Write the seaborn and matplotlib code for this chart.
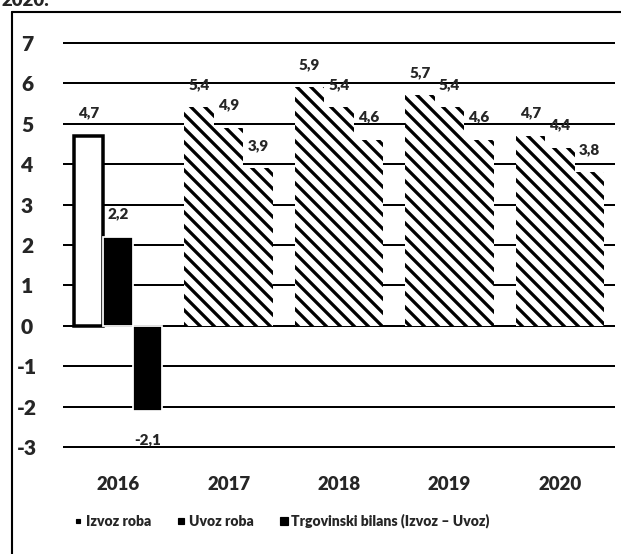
import pandas as pd
import matplotlib
matplotlib.use("Agg")
import matplotlib.pyplot as plt
import seaborn as sns
from matplotlib.lines import Line2D

# values
years = ["2016", "2017", "2018", "2019", "2020"]
series = ["Izvoz roba", "Uvoz roba", "Trgovinski bilans (Izvoz – Uvoz)"]
izvoz = [4.7, 5.4, 5.9, 5.7, 4.7]
uvoz = [2.2, 4.9, 5.4, 5.4, 4.4]
bilans = [-2.1, 3.9, 4.6, 4.6, 3.8]
yticks = [-3, -2, -1, 0, 1, 2, 3, 4, 5, 6, 7]

df = pd.DataFrame({
    "year": years * 3,
    "series": [series[0]] * 5 + [series[1]] * 5 + [series[2]] * 5,
    "value": izvoz + uvoz + bilans,
})

sns.set_style("white")
plt.rcParams["font.family"] = ["Lato", "DejaVu Sans"]
plt.rcParams["font.weight"] = "bold"
plt.rcParams["hatch.linewidth"] = 2.8
plt.rcParams["hatch.color"] = "black"

DPI = 84
fig = plt.figure(figsize=(621 / DPI, 554 / DPI), dpi=DPI)
ax = fig.add_axes([63 / 621, 0.18863, 552 / 621, 0.73827])

sns.barplot(data=df, x="year", y="value", hue="series", order=years,
            hue_order=series, palette=["white", "black", "black"],
            width=0.8, saturation=1, legend=False, ax=ax, zorder=3)

for j, cont in enumerate(ax.containers):
    for i, bar in enumerate(cont):
        if i == 0:
            if j == 0:
                bar.set_facecolor("white")
                bar.set_edgecolor("black")
                bar.set_linewidth(3.0)
            else:
                bar.set_facecolor("black")
                bar.set_edgecolor("white")
                bar.set_linewidth(1.5)
        else:
            bar.set_facecolor("white")
            bar.set_edgecolor("black")
            bar.set_linewidth(0)
            bar.set_hatch("\\\\")
        v = df[(df["series"] == series[j]) & (df["year"] == years[i])]["value"].iloc[0]
        off = 19.5 if v >= 0 else -25
        ax.annotate(f"{v:.1f}".replace(".", ","),
                    (bar.get_x() + bar.get_width() / 2, v),
                    xytext=(0, off), textcoords="offset points",
                    ha="center", va="center", fontsize=13, fontweight="heavy",
                    zorder=5)

ax.set_ylim(-3.05, 7.05)
ax.set_xlim(-0.5, 4.5)
ax.set_yticks(yticks)
ax.set_yticklabels([str(t) for t in yticks])
ax.yaxis.grid(True, color="black", linewidth=1.7)
ax.set_axisbelow(True)
ax.tick_params(axis="y", length=0, pad=30.9, labelsize=18)
ax.tick_params(axis="x", length=0, pad=22.5, labelsize=16)
for lab in ax.get_yticklabels():
    lab.set_ha("center")
    lab.set_fontweight("heavy")
for lab in ax.get_xticklabels():
    lab.set_fontweight("heavy")
ax.set_xlabel("")
ax.set_ylabel("")
sns.despine(ax=ax, left=True, bottom=True)

handles = [
    Line2D([], [], marker="s", ls="", color="black", markersize=4),
    Line2D([], [], marker="s", ls="", color="black", markersize=4.5),
    Line2D([], [], marker="s", ls="", color="black", markersize=6.5),
]
fig.legend(handles, series, loc="center", bbox_to_anchor=(282 / 621, 1 - 521 / 554),
           ncol=3, frameon=False, handlelength=0.5, handletextpad=0.3,
           columnspacing=1.9, prop={"size": 12, "weight": "heavy"})

# scanned frame around the figure
fig.add_artist(Line2D([12 / 621, 12 / 621], [0, 1 - 12 / 554],
                      transform=fig.transFigure, color="black", lw=1.8))
fig.add_artist(Line2D([12 / 621, 1], [1 - 12 / 554, 1 - 12 / 554],
                      transform=fig.transFigure, color="black", lw=1.8))
fig.text(2 / 621, 1 - 9 / 554, "2020.", fontsize=16, fontweight="heavy", va="bottom")

fig.savefig("out.png", dpi=DPI)
